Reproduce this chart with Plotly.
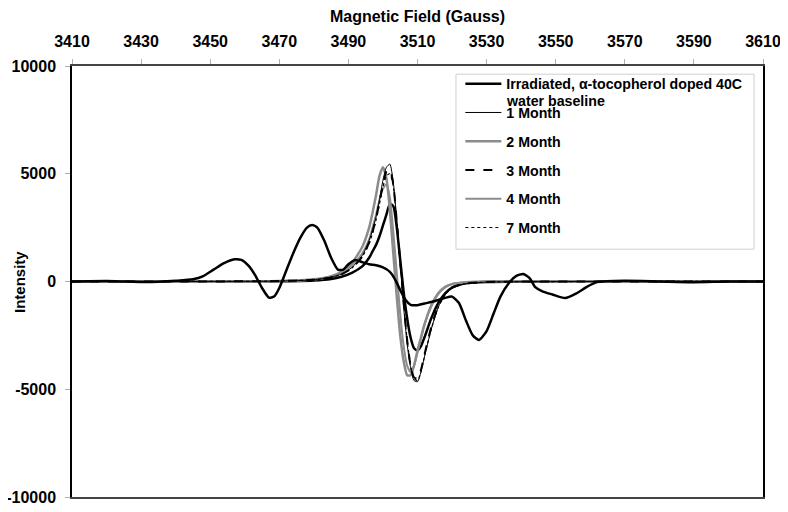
import plotly.graph_objects as go

# ---- data ----
field_irr = [3410, 3420, 3425, 3430, 3435, 3440, 3445, 3448, 3451, 3454, 3457, 3459, 3461, 3463,
             3465, 3467, 3468.5, 3470, 3472, 3474, 3476, 3478, 3479.5, 3481, 3483, 3485, 3487,
             3488.5, 3490, 3492, 3494, 3496, 3498, 3500, 3502, 3503.5, 3505, 3506.5, 3508, 3510,
             3512, 3514, 3516, 3518, 3520, 3522, 3524, 3526, 3527.8, 3530, 3532, 3534, 3536.8,
             3538.5, 3540.6, 3542.5, 3544, 3546.3, 3549, 3552.7, 3556, 3559, 3562, 3570, 3580,
             3590, 3600, 3610]
int_irr = [0, 20, 0, -20, -10, 30, 100, 250, 550, 850, 1030, 1000, 750, 300,
           -300, -750, -700, -300, 500, 1300, 2000, 2500, 2620, 2500, 1900, 1100, 550,
           550, 800, 1000, 900, 800, 750, 650, 450, 100, -400, -850, -1080, -1100,
           -1020, -950, -860, -760, -700, -1000, -1800, -2500, -2710, -2300, -1500, -700, 0,
           250, 350, 150, -250, -470, -600, -770, -550, -250, -30, 30, 0,
           -30, 0, 0]

field_c = [3410, 3440, 3470, 3480, 3485, 3488, 3491, 3494, 3496, 3497, 3498, 3499, 3500, 3501,
           3502, 3503, 3504, 3505, 3506, 3507, 3508, 3509, 3510, 3511, 3512, 3514, 3516,
           3518, 3520, 3524, 3530, 3560, 3610]

int_1m = [0, 0, 20, 80, 200, 350, 650, 1200, 1900, 2400, 3000, 3800, 4700, 5300,
          5450, 4600, 2800, 800, -1200, -2900, -4000, -4600, -4650, -4200, -3500, -2200, -1200,
          -600, -300, -100, -30, 0, 0]
int_2m = [0, 0, 20, 100, 250, 450, 850, 1600, 2500, 3200, 4000, 4900, 5300, 4800,
          3300, 1300, -700, -2500, -3700, -4350, -4350, -3900, -3200, -2600, -2000, -1100, -550,
          -250, -120, -40, 0, 0, 0]
int_3m = [0, 0, 20, 80, 190, 330, 620, 1150, 1800, 2300, 2900, 3700, 4500, 5100,
          5200, 4500, 2800, 900, -1000, -2700, -3900, -4450, -4500, -4100, -3400, -2100, -1150,
          -580, -280, -90, -20, 0, 0]
int_4m = [0, 0, 20, 90, 220, 400, 750, 1300, 1950, 2500, 3100, 3800, 4300, 4500,
          3900, 2300, 400, -1500, -3000, -3900, -4200, -3900, -3300, -2650, -2000, -1150, -580,
          -270, -120, -40, 0, 0, 0]
int_7m = [0, 0, 20, 80, 190, 330, 620, 1150, 1750, 2250, 2850, 3600, 4400, 4900,
          5000, 4400, 2800, 900, -1000, -2700, -3900, -4500, -4600, -4200, -3500, -2200, -1200,
          -600, -290, -100, -25, 0, 0]
int_extra = [0, 0, 10, 50, 120, 220, 400, 700, 1100, 1400, 1700, 2100, 2600, 3100,
             3600, 3500, 2500, 1000, -500, -1700, -2600, -3100, -3200, -3000, -2600, -1700, -1000,
             -550, -280, -80, -20, 0, 0]

x_ticks = [3410, 3430, 3450, 3470, 3490, 3510, 3530, 3550, 3570, 3590, 3610]
y_ticks = [-10000, -5000, 0, 5000, 10000]
y_tick_labels = ["-10000", "-5000", "0", "5000", "10000"]

FONT = "Arial, 'Liberation Sans', sans-serif"
FS = 16
LFS = 14.2

fig = go.Figure()

def add(x, y, name, color, width, dash="solid", show=True, rank=None):
    fig.add_trace(go.Scatter(
        x=x, y=y, mode="lines", name=name,
        line=dict(color=color, width=width, dash=dash, shape="spline", smoothing=0.6),
        legendgroup=name, showlegend=show, hoverinfo="skip",
        legendrank=rank if rank is not None else 1000))

add(field_c, int_extra, "extra", "#000000", 2.5, show=False)
add(field_c, int_2m, "2 Month", "#8c8c8c", 2.5, rank=3)
add(field_c, int_4m, "4 Month", "#8c8c8c", 2, rank=5)
add(field_c, int_1m, "1 Month", "#000000", 1, rank=2)
add(field_c, int_3m, "3 Month", "#000000", 2, dash="dash", rank=4)
add(field_c, int_7m, "7 Month", "#000000", 1.2, dash="dot", rank=6)
add(field_irr, int_irr, "Irradiated, α-tocopherol doped 40C", "#000000", 2.5, rank=1)

# the page has an 8px body margin, so the figure is sized/offset to compensate
fig.update_layout(
    width=780, height=504,
    margin=dict(l=64, r=25, t=58, b=15, autoexpand=False),
    paper_bgcolor="white", plot_bgcolor="white",
    font=dict(family=FONT, size=FS, color="#000000"),
    showlegend=True,
    legend=dict(
        x=0.562, y=0.9954, xanchor="left", yanchor="top",
        bgcolor="rgba(0,0,0,0)", bordercolor="rgba(0,0,0,0)", borderwidth=0,
        font=dict(family=FONT, size=LFS, color="#000000", weight="bold"),
        tracegroupgap=7.3, itemwidth=36,
    ),
    xaxis=dict(
        side="top", range=[3410, 3610], tickvals=x_ticks, automargin=False,
        ticks="outside", ticklen=5, tickcolor="#b0b0b0", ticklabelstandoff=6,
        showgrid=False, zeroline=False,
        showline=True, linecolor="#444444", linewidth=1.5, mirror=True,
        tickfont=dict(family=FONT, size=FS, weight="bold"),
        title=dict(text="Magnetic Field (Gauss)", font=dict(family=FONT, size=FS, weight="bold"),
                   standoff=8),
    ),
    yaxis=dict(
        range=[-10000, 10000], tickvals=y_ticks, ticktext=y_tick_labels, automargin=False,
        ticks="outside", ticklen=5, tickcolor="#b0b0b0", ticklabelstandoff=6,
        showgrid=False, zeroline=False,
        showline=True, linecolor="#000000", linewidth=1.5, mirror=True,
        tickfont=dict(family=FONT, size=FS, weight="bold"),
    ),
    shapes=[dict(type="rect", xref="paper", yref="paper",
                 x0=0.5557, x1=0.987, y0=0.575, y1=0.981,
                 line=dict(color="#d0d0d0", width=1), fillcolor="white", layer="below")],
    annotations=[
        dict(text="Intensity", textangle=-90, xref="paper", yref="paper",
             x=-0.076, y=0.5, xanchor="center", yanchor="middle", showarrow=False,
             font=dict(family=FONT, size=FS - 1, weight="bold")),
        # second line of the wrapped first legend entry
        dict(text="water baseline", xref="paper", yref="paper",
             x=0.6245, y=0.918, xanchor="left", yanchor="middle", showarrow=False,
             font=dict(family=FONT, size=LFS, weight="bold")),
    ],
)

fig.write_html("out.html")
